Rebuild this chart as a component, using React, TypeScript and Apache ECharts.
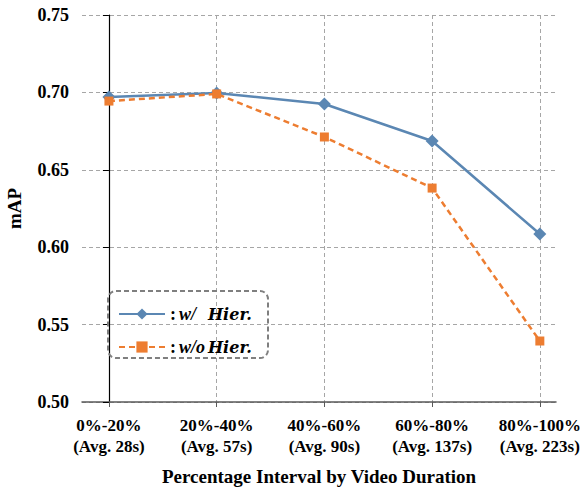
import React, { useEffect, useRef } from "react";
import * as echarts from "echarts";

const categories = ["0%-20%\n(Avg. 28s)", "20%-40%\n(Avg. 57s)", "40%-60%\n(Avg. 90s)", "60%-80%\n(Avg. 137s)", "80%-100%\n(Avg. 223s)"];
const withHier = [0.697, 0.6996, 0.6925, 0.6686, 0.6085];
const withoutHier = [0.6944, 0.699, 0.6712, 0.6382, 0.5394];
const yTicks = [0.5, 0.55, 0.6, 0.65, 0.7, 0.75];
const xPositions = [0, 1, 2, 3, 4];

const FONT = "Liberation Serif";

export default function App() {
  const ref = useRef<HTMLDivElement>(null);
  useEffect(() => {
    if (!ref.current) return;
    const chart = echarts.init(ref.current, undefined, { renderer: "svg" });
    const grid = { left: 82, right: 30, top: 15, bottom: 85, outerBoundsMode: "none", containLabel: false };
    chart.setOption({
      animation: false,
      backgroundColor: "#ffffff",
      textStyle: { fontFamily: FONT, fontWeight: "bold", color: "#000" },
      grid,
      xAxis: {
        type: "value",
        min: -0.25,
        max: 4.15,
        name: "Percentage Interval by Video Duration",
        nameLocation: "middle",
        nameGap: 65,
        nameMoveOverlap: false,
        nameTextStyle: { fontFamily: FONT, fontWeight: "bold", fontSize: 19, color: "#000" },
        axisLine: { show: true, lineStyle: { color: "#595959", width: 1.5 } },
        axisTick: {
          show: true,
          customValues: xPositions,
          inside: false,
          length: 5,
          lineStyle: { color: "#595959" },
        },
        axisLabel: {
          customValues: xPositions,
          formatter: (v: number) => categories[Math.round(v)] ?? "",
          fontFamily: FONT,
          fontWeight: "bold",
          fontSize: 17,
          color: "#000",
          lineHeight: 21,
          margin: 13,
        },
        splitLine: { show: true, lineStyle: { color: "#a6a6a6", type: [4, 3], width: 1 } },
      },
      yAxis: {
        type: "value",
        min: 0.5,
        max: 0.75,
        interval: 0.05,
        name: "mAP",
        nameLocation: "middle",
        nameGap: 58,
        nameMoveOverlap: false,
        nameTextStyle: { fontFamily: FONT, fontWeight: "bold", fontSize: 19, color: "#000" },
        axisLine: { show: true, lineStyle: { color: "#000", width: 1.2 } },
        axisTick: { show: true, length: 6, lineStyle: { color: "#000" } },
        axisLabel: {
          formatter: (v: number) => {
            const t = yTicks.find((y) => Math.abs(y - v) < 1e-6);
            return (t ?? v).toFixed(2);
          },
          fontFamily: FONT,
          fontWeight: "bold",
          fontSize: 18,
          color: "#000",
          margin: 13,
        },
        splitLine: { show: true, lineStyle: { color: "#a6a6a6", type: [4, 3], width: 1 } },
      },
      legend: {
        left: 113,
        top: 300,
        orient: "vertical",
        itemWidth: 46,
        itemHeight: 14,
        itemGap: 15,
        data: [{ name: "w/" }, { name: "w/o" }],
        formatter: (name: string) =>
          name === "w/"
            ? "{c|:} {i|w/}    {h|Hier.}"
            : "{c|:} {i|w/o} {h|Hier.}",
        textStyle: {
          fontFamily: FONT,
          rich: {
            c: { fontFamily: FONT, fontWeight: "bold", fontSize: 18, color: "#000" },
            i: { fontFamily: FONT, fontWeight: "bold", fontStyle: "italic", fontSize: 18, color: "#000" },
            h: { fontFamily: "DejaVu Serif", fontWeight: "bold", fontStyle: "italic", fontSize: 16, color: "#000" },
          },
        },
      },
      graphic: [
        {
          type: "rect",
          shape: { x: 108, y: 291, width: 160, height: 67, r: 8 },
          style: { fill: "transparent", stroke: "#7f7f7f", lineWidth: 2, lineDash: [5, 3] },
          z: 10,
        },
      ],
      series: [
        {
          name: "w/",
          type: "line",
          data: withHier.map((v, i) => [xPositions[i], v]),
          symbol: "diamond",
          symbolSize: 13,
          lineStyle: { color: "#5b87b3", width: 2.5 },
          itemStyle: { color: "#5b87b3" },
          z: 3,
        },
        {
          name: "w/o",
          type: "line",
          data: withoutHier.map((v, i) => [xPositions[i], v]),
          symbol: "rect",
          symbolSize: 9,
          lineStyle: { color: "#ed7d31", width: 2.5, type: [6, 4] },
          itemStyle: { color: "#ed7d31" },
          z: 4,
        },
      ],
    });
    return () => chart.dispose();
  }, []);
  return <div ref={ref} style={{ width: 586, height: 487, position: "absolute", left: 0, top: 0 }} />;
}
